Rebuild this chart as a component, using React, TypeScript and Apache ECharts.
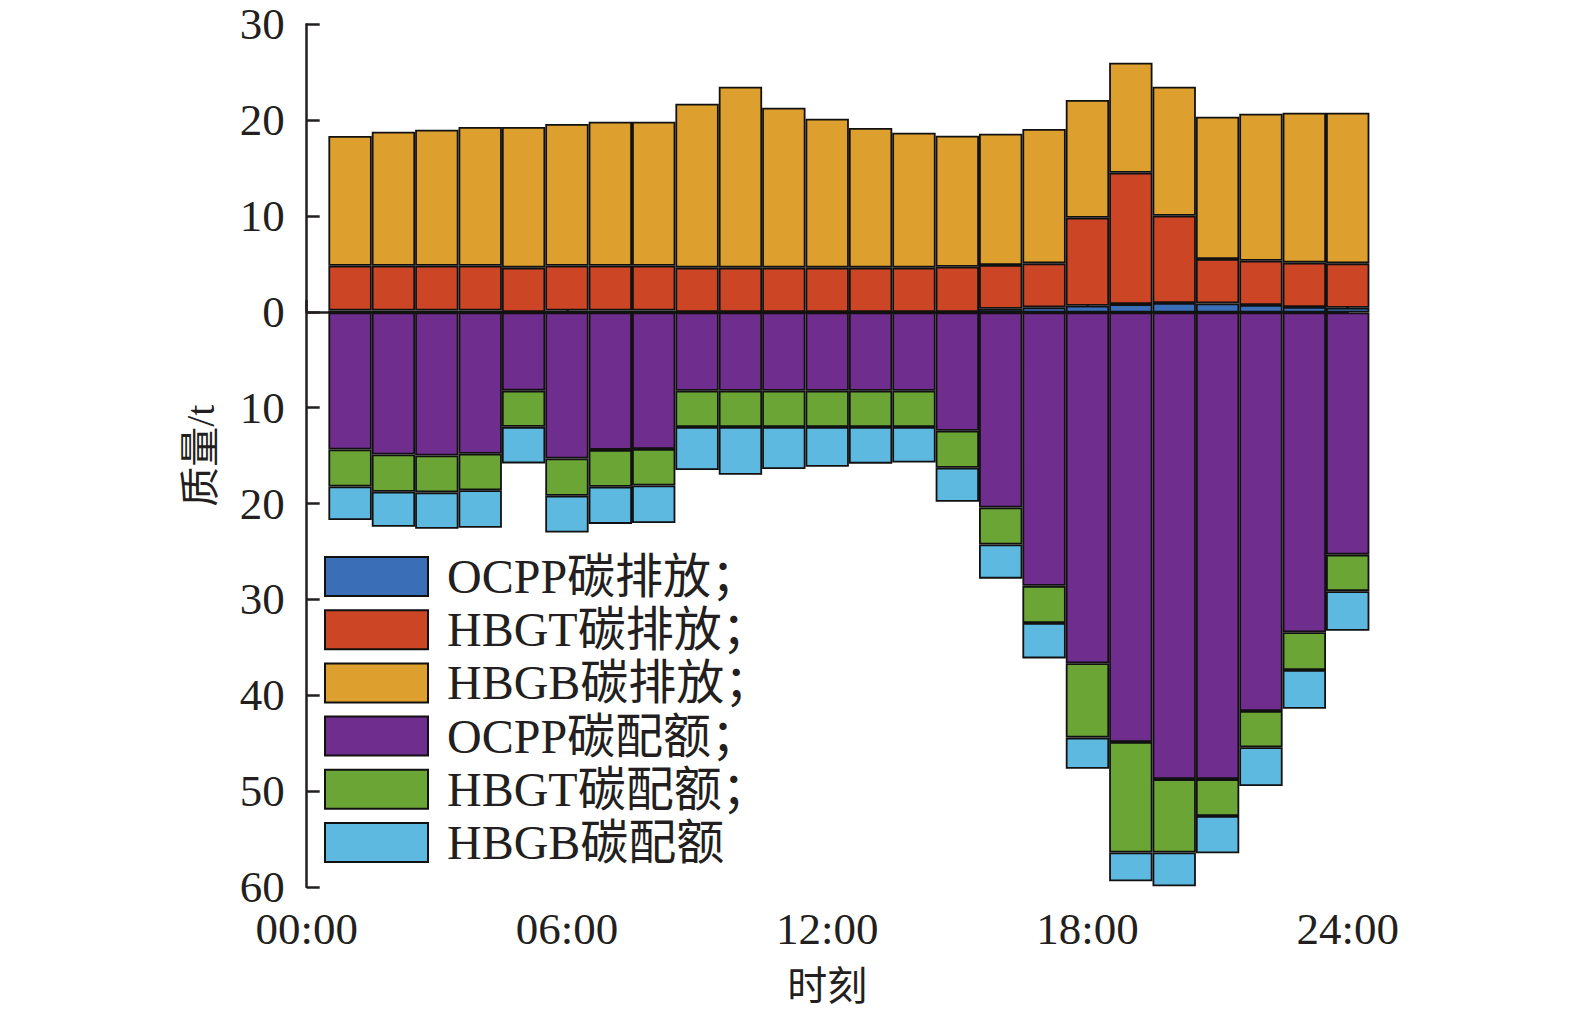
import React, { useEffect, useRef } from "react";
import * as echarts from "echarts";

const hours = ["1", "2", "3", "4", "5", "6", "7", "8", "9", "10", "11", "12", "13", "14", "15", "16", "17", "18", "19", "20", "21", "22", "23", "24"];
const xTicks = ["00:00", "06:00", "12:00", "18:00", "24:00"];

const ocppEmission = [0.2, 0.2, 0.2, 0.2, 0.05, 0.2, 0.2, 0.2, 0.05, 0.05, 0.05, 0.05, 0.05, 0.05, 0.05, 0.4, 0.54, 0.71, 0.88, 0.99, 0.95, 0.78, 0.57, 0.5];
const hbgtEmission = [4.67, 4.67, 4.67, 4.67, 4.62, 4.67, 4.67, 4.67, 4.62, 4.62, 4.62, 4.62, 4.62, 4.62, 4.72, 4.54, 4.58, 9.16, 13.67, 9.09, 4.62, 4.61, 4.62, 4.62];
const hbgbEmission = [13.5, 13.95, 14.16, 14.44, 14.64, 14.75, 14.99, 14.99, 17.06, 18.83, 16.65, 15.5, 14.53, 14.05, 13.63, 13.67, 13.98, 12.25, 11.45, 13.42, 14.81, 15.3, 15.61, 15.68];

const ocppQuota = [14.26, 14.78, 14.88, 14.7, 8.13, 15.2, 14.3, 14.2, 8.14, 8.14, 8.14, 8.14, 8.14, 8.14, 12.3, 20.3, 28.45, 36.5, 44.7, 48.56, 48.56, 41.48, 33.28, 25.2];
const hbgtQuota = [3.84, 3.87, 3.84, 3.8, 3.77, 3.87, 3.83, 3.8, 3.78, 3.78, 3.78, 3.78, 3.78, 3.78, 3.85, 3.85, 3.87, 7.74, 11.5, 7.64, 3.84, 3.76, 3.92, 3.8];
const hbgbQuota = [3.5, 3.65, 3.78, 3.9, 3.8, 3.83, 3.87, 3.9, 4.47, 4.96, 4.37, 4.13, 3.81, 3.7, 3.54, 3.55, 3.68, 3.24, 3.0, 3.52, 3.88, 4.04, 4.04, 4.12];

const seriesNames = ["OCPP碳排放；", "HBGT碳排放；", "HBGB碳排放；", "OCPP碳配额；", "HBGT碳配额；", "HBGB碳配额"];
const seriesColors = ["#3a6fb8", "#cc4626", "#dda02e", "#6f2d8e", "#6aa535", "#5db9e0"];

export default function App() {
  const ref = useRef<HTMLDivElement>(null);
  useEffect(() => {
    const chart = echarts.init(ref.current!, null, { renderer: "svg" });
    const font = "'Liberation Serif', 'Times New Roman', 'Noto Sans CJK SC', serif";
    const ink = "#231f20";
    const valuesList = [ocppEmission, hbgtEmission, hbgbEmission, ocppQuota, hbgtQuota, hbgbQuota];
    const signs = [1, 1, 1, -1, -1, -1];
    const plotLeft = 306.7;
    const plotTop = 24.3;
    const plotW = 1041;
    const plotH = 864.7;
    const band = plotW / 24;
    const series = seriesNames.map((name, k) => ({
      name,
      type: "bar",
      stack: k < 3 ? "emission" : "quota",
      xAxisIndex: 1,
      yAxisIndex: 1,
      barWidth: "100%",
      barGap: "-100%",
      clip: false,
      itemStyle: { color: seriesColors[k], borderColor: "#111", borderWidth: 1.8 },
      data: valuesList[k].map((v) => signs[k] * v),
    }));
    chart.setOption({
      animation: false,
      backgroundColor: "#fff",
      grid: [
        { left: plotLeft, top: plotTop, width: plotW, height: plotH, containLabel: false },
        { left: plotLeft + band / 2, top: plotTop, width: plotW, height: plotH, containLabel: false },
      ],
      legend: {
        orient: "vertical",
        left: 324,
        top: 552.5,
        padding: 0,
        itemWidth: 103,
        itemHeight: 39,
        itemGap: 5.2,
        icon: "rect",
        itemStyle: { borderColor: "#111", borderWidth: 2 },
        textStyle: { fontSize: 48, fontFamily: font, color: ink, padding: [0, 0, 0, 14] },
        data: seriesNames,
      },
      xAxis: [
        {
          type: "value",
          gridIndex: 0,
          min: 0,
          max: 24,
          interval: 6,
          name: "时刻",
          nameLocation: "middle",
          nameGap: 79,
          nameTextStyle: { fontSize: 40, fontFamily: font, color: ink },
          axisLine: { lineStyle: { color: ink, width: 2.5 } },
          axisTick: { inside: true, length: 12, lineStyle: { color: ink, width: 2.5 } },
          axisLabel: {
            fontSize: 45,
            fontFamily: font,
            color: ink,
            margin: 23,
            lineHeight: 38,
            formatter: (v: number) => xTicks[Math.round(v / 6)] ?? "",
          },
          splitLine: { show: false },
        },
        {
          type: "category",
          gridIndex: 1,
          data: hours,
          boundaryGap: true,
          show: false,
        },
      ],
      yAxis: [
        {
          type: "value",
          gridIndex: 0,
          min: -60,
          max: 30,
          interval: 10,
          name: "质量/t",
          nameLocation: "middle",
          nameGap: 86,
          nameTextStyle: { fontSize: 40, fontFamily: font, color: ink },
          axisLine: { show: true, lineStyle: { color: ink, width: 2.5 } },
          axisTick: { show: true, inside: true, length: 13, lineStyle: { color: ink, width: 2.5 } },
          axisLabel: {
            fontSize: 45,
            fontFamily: font,
            color: ink,
            margin: 22,
            lineHeight: 36,
            formatter: (v: number) => String(Math.abs(v)),
          },
          splitLine: { show: false },
        },
        {
          type: "value",
          gridIndex: 1,
          min: -60,
          max: 30,
          interval: 10,
          show: false,
          splitLine: { show: false },
        },
      ],
      series,
    });
    return () => chart.dispose();
  }, []);
  return (
    <div
      ref={ref}
      style={{ position: "fixed", left: 0, top: 0, width: 1575, height: 1011, background: "#fff" }}
    />
  );
}
